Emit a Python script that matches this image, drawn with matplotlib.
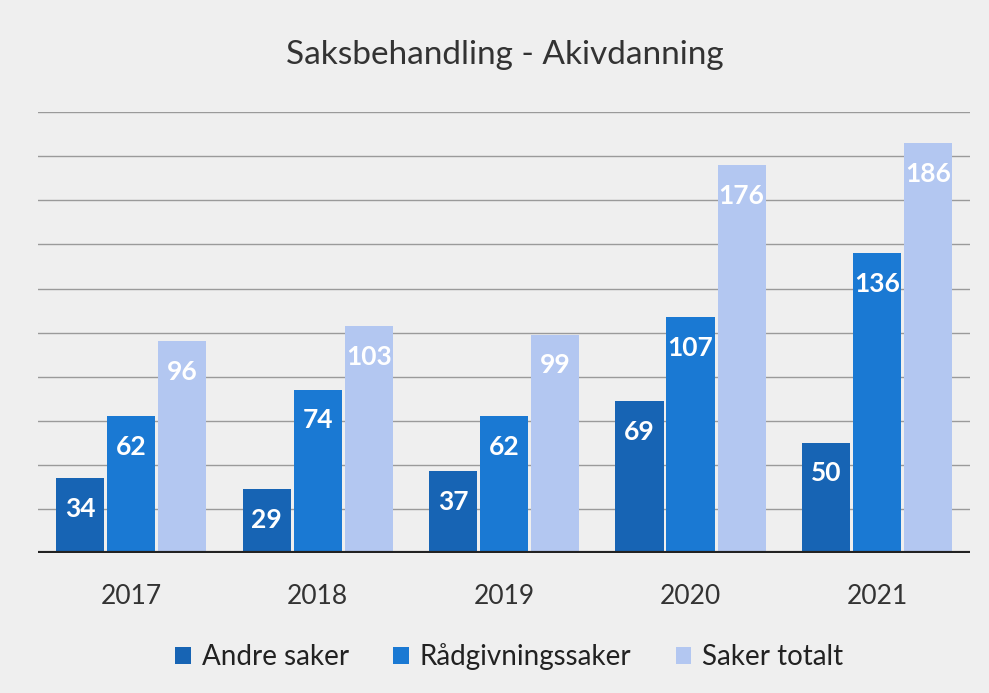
import matplotlib.pyplot as plt
import numpy as np

# data
years = ['2017', '2018', '2019', '2020', '2021']
andre_saker = [34, 29, 37, 69, 50]
radgivningssaker = [62, 74, 62, 107, 136]
saker_totalt = [96, 103, 99, 176, 186]

series_names = ['Andre saker', 'Rådgivningssaker', 'Saker totalt']
colors = ['#1764b4', '#1a79d3', '#b3c7f1']

plt.rcParams['font.family'] = ['Lato', 'DejaVu Sans']

fig = plt.figure(figsize=(9.89, 6.93), dpi=100)
fig.patch.set_facecolor('#efefef')
ax = fig.add_axes([0.0384, 0.202, 0.9426, 0.636])
ax.set_facecolor('none')

x = np.arange(len(years))
offset = 0.274
width = 0.258

for i, (vals, name, col) in enumerate(zip([andre_saker, radgivningssaker, saker_totalt], series_names, colors)):
    pos = x + (i - 1) * offset
    ax.bar(pos, vals, width, color=col, label=name, zorder=2)
    for xp, v in zip(pos, vals):
        ax.annotate(f'{v}', (xp, v), xytext=(0, -22), textcoords='offset points',
                    ha='center', va='center', color='white', fontsize=19, fontweight='bold', zorder=3)

ax.set_xlim(-0.5, len(years) - 0.5)
ax.set_ylim(0, 200)

# gridlines
for g in range(20, 201, 20):
    ax.axhline(g, color='#9a9a9a', linewidth=1, zorder=1)
ax.axhline(0, color='#222222', linewidth=3, zorder=4)

ax.set_xticks(x)
ax.set_xticklabels(years, fontsize=19, color='#333333')
ax.tick_params(axis='x', length=0, pad=22)
ax.set_yticks([])
for s in ax.spines.values():
    s.set_visible(False)

fig.text(0.51, 0.92, 'Saksbehandling - Akivdanning', ha='center', va='center',
         fontsize=24, color='#333333')

fig.legend(loc='center', bbox_to_anchor=(0.515, 0.052), ncol=3, frameon=False,
           fontsize=20, handlelength=0.55, handleheight=0.55, handletextpad=0.4,
           columnspacing=1.6, labelcolor='#222222')

plt.savefig('out.png', dpi=100, facecolor=fig.get_facecolor())
